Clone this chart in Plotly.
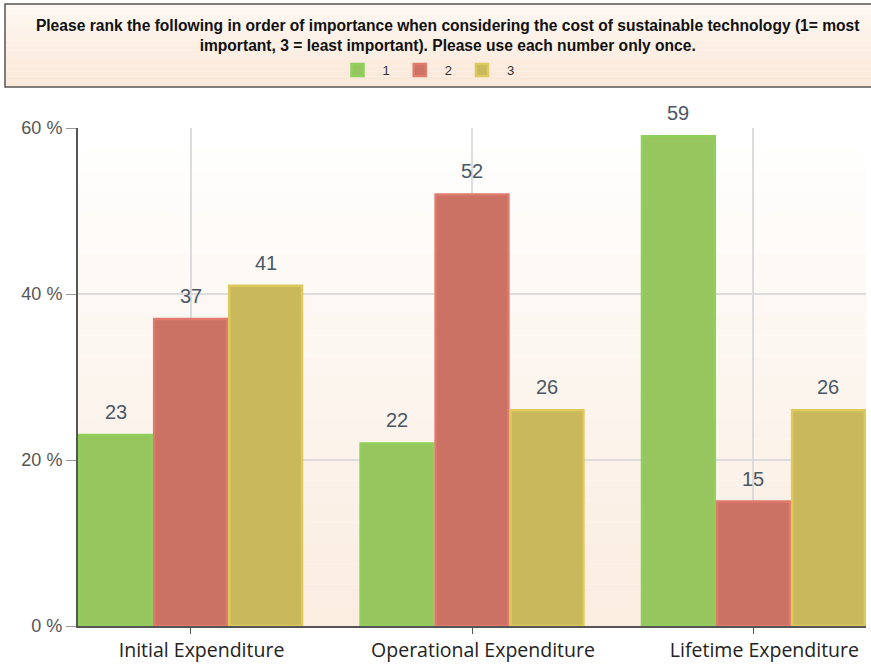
import plotly.graph_objects as go

categories = ["Initial Expenditure", "Operational Expenditure", "Lifetime Expenditure"]
rank1 = [23, 22, 59]
rank2 = [37, 52, 15]
rank3 = [41, 26, 26]
series_names = ["1", "2", "3"]
y_ticks = [0, 20, 40, 60]
y_tick_labels = ["0 %", "20 %", "40 %", "60 %"]
title_text = ("Please rank the following in order of importance when considering the cost of sustainable technology (1= most"
              "<br>important, 3 = least important). Please use each number only once.")

fills = ["#98c65e", "#cc7264", "#c9b85c"]
edges = ["#8fd05c", "#e07a6c", "#ddc95c"]

W, H = 871, 668
ML, MR, MT, MB = 78, 5, 128, 42
PW, PH = W - ML - MR, H - MT - MB

fig = go.Figure()
series = [rank1, rank2, rank3]
for name, vals, fc, ec in zip(series_names, series, fills, edges):
    fig.add_trace(go.Bar(
        x=categories, y=vals, name=name,
        marker=dict(color=fc, line=dict(color=ec, width=2.5)),
        cliponaxis=False,
    ))

# value labels above bars, positioned by the axis scale
cat_px = PW / 2.8
annotations = []
for i, vals in enumerate(series):
    for c, v in zip(categories, vals):
        annotations.append(dict(
            x=c, y=v, xref="x", yref="y", text=str(v), showarrow=False,
            xshift=(i - 1) * cat_px * 0.8 / 3, yshift=23, yanchor="middle",
            font=dict(family="Liberation Sans, Arial", size=20, color="#4a5866")))

shapes = []
def px2py(y):
    return (H - MB - y) / PH
def px2px(x):
    return (x - ML) / PW

# title box gradient
n = 16
top, bot = 4, 87
for i in range(n):
    t = i / (n - 1)
    r = int(254 + (250 - 254) * t)
    g = int(248 + (232 - 248) * t)
    b = int(242 + (216 - 242) * t)
    y0 = top + (bot - top) * i / n
    y1 = top + (bot - top) * (i + 1) / n
    shapes.append(dict(type="rect", xref="paper", yref="paper",
                       x0=px2px(5), x1=px2px(880),
                       y0=px2py(y1), y1=px2py(y0),
                       fillcolor=f"rgb({r},{g},{b})", line=dict(width=0), layer="below"))
shapes.append(dict(type="rect", xref="paper", yref="paper",
                   x0=px2px(5), x1=px2px(880), y0=px2py(bot), y1=px2py(top),
                   fillcolor="rgba(0,0,0,0)", line=dict(color="#555", width=1.5), layer="below"))
# plot area gradient
m = 24
for i in range(m):
    t = i / (m - 1)
    r = int(255 + (251 - 255) * t)
    g = int(255 + (237 - 255) * t)
    b = int(255 + (224 - 255) * t)
    shapes.append(dict(type="rect", xref="paper", yref="paper", x0=0, x1=1,
                       y0=1 - (i + 1) / m, y1=1 - i / m,
                       fillcolor=f"rgb({r},{g},{b})", line=dict(width=0), layer="below"))

fig.update_layout(
    width=W, height=H,
    margin=dict(l=ML, r=MR, t=MT, b=MB),
    paper_bgcolor="white",
    plot_bgcolor="rgba(0,0,0,0)",
    barmode="group", bargap=0.2, bargroupgap=0.03,
    shapes=shapes, annotations=annotations,
    title=dict(text="<b>" + title_text + "</b>", xref="container", yref="container",
               x=0.514, xanchor="center", y=1 - 31 / H, yanchor="middle",
               font=dict(family="Liberation Sans, Arial", size=15.6, color="#111")),
    legend=dict(orientation="h", xref="container", yref="container",
                x=426 / W, xanchor="center", y=1 - 70 / H, yanchor="middle",
                font=dict(family="Liberation Sans, Arial", size=13, color="#333"),
                bgcolor="rgba(0,0,0,0)", itemwidth=40, traceorder="normal"),
    showlegend=True,
)
fig.update_xaxes(range=[-0.4, 2.4], showgrid=True, gridcolor="#dcdcdc", gridwidth=1.5,
                 showline=True, linecolor="#555", linewidth=2,
                 ticks="outside", ticklen=6, tickcolor="#555", ticklabelshift=11,
                 tickfont=dict(family="Open Sans, Lato, sans-serif", size=19.5, color="#222"))
fig.update_yaxes(range=[0, 60], tickvals=y_ticks, ticktext=y_tick_labels,
                 showgrid=True, gridcolor="#dcdcdc", gridwidth=1.5, zeroline=False,
                 showline=True, linecolor="#555", linewidth=2,
                 ticks="outside", ticklen=10, tickcolor="#999",
                 tickfont=dict(family="Liberation Sans, Arial", size=18, color="#555"))

fig.write_html("out.html", config={"displayModeBar": False},
               post_script="document.body.style.margin='0px';")
